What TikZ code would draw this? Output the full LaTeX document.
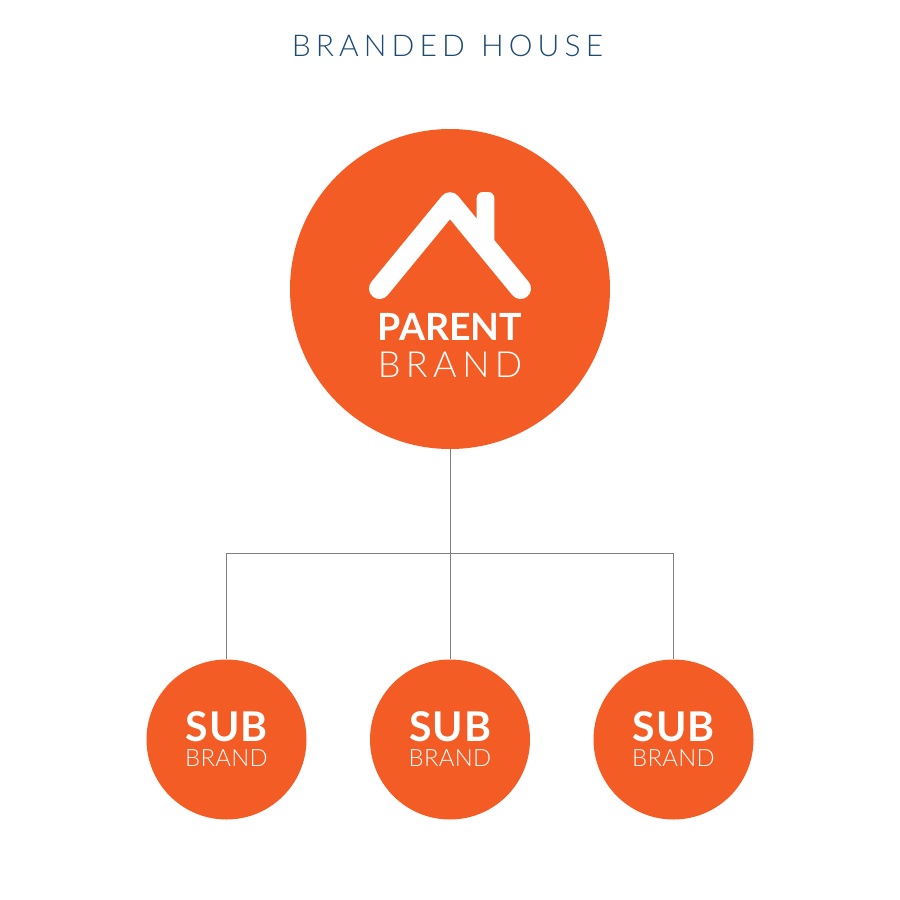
\documentclass[tikz,border=0pt]{standalone}
\usepackage{fontspec}
\setmainfont{Lato}
\newfontfamily\lgtA[LetterSpace=17]{Lato Light}
\newfontfamily\lgtB[LetterSpace=15]{Lato Light}
\newfontfamily\lgtC[LetterSpace=1.5]{Lato Light}
\newfontfamily\bldA{Lato Bold}
\newfontfamily\bldB[LetterSpace=2.5]{Lato Bold}
\definecolor{brandorange}{HTML}{F35C25}
\definecolor{titleblue}{HTML}{1F4A73}
\definecolor{linegray}{HTML}{808080}
\tikzset{
  x=1pt,y=-1pt,
  bigdisc/.style={circle,fill=brandorange,draw=none,minimum size=320pt,inner sep=0pt},
  subdisc/.style={circle,fill=brandorange,draw=none,minimum size=160pt,inner sep=0pt},
  wire/.style={draw=linegray,line width=0.9pt},
  txt/.style={anchor=base,inner sep=0pt,outer sep=0pt},
  wtxt/.style={txt,text=white}
}
\begin{document}
\begin{tikzpicture}
\useasboundingbox (0,0) rectangle (900,900);
\fill[white] (0,0) rectangle (900,900);
\coordinate (hub) at (450,553.5);
\coordinate (hl) at (226.5,553.5);
\coordinate (hr) at (673.5,553.5);
\node[bigdisc] (parent) at (450,289) {};
\node[subdisc] (s1) at (226.5,739.5) {};
\node[subdisc] (s2) at (450,739.5) {};
\node[subdisc] (s3) at (673.5,739.5) {};
\draw[wire] (parent.south) -- (hub);
\draw[wire] (hub) -- (s2.north);
\draw[wire] (s1.north) -- (hl) -- (hr) -- (s3.north);
% house icon
\fill[white] (476.7,248) -- (476.7,198) .. controls (476.7,194.7) and (479.4,192) .. (482.7,192) -- (488.3,192) .. controls (491.6,192) and (494.3,194.7) .. (494.3,198) -- (494.3,248) -- cycle;
\draw[white,line width=21pt,line cap=round,line join=round] (379.5,288.5) -- (450,202.7) -- (520.5,288.5);
% texts
\node[txt,text=titleblue,font=\lgtA\fontsize{30}{30}\selectfont] (title) at (447.5,56.7) {BRANDED\hspace{3pt} HOUSE};
\node[wtxt,font=\bldA\fontsize{37.5}{37.5}\selectfont] (ptop) at (450,340) {PARENT};
\node[wtxt,font=\lgtB\fontsize{36}{36}\selectfont] (pbot) at (450,377.3) {BRAND};
\foreach \n/\x in {1/226.5,2/450,3/673.5}{
  \node[wtxt,font=\bldB\fontsize{41}{41}\selectfont] (st\n) at (\x,741) {SUB};
  \node[wtxt,font=\lgtC\fontsize{23.8}{23.8}\selectfont] (sb\n) at (\x,766.7) {BRAND};
}
\end{tikzpicture}
\end{document}
